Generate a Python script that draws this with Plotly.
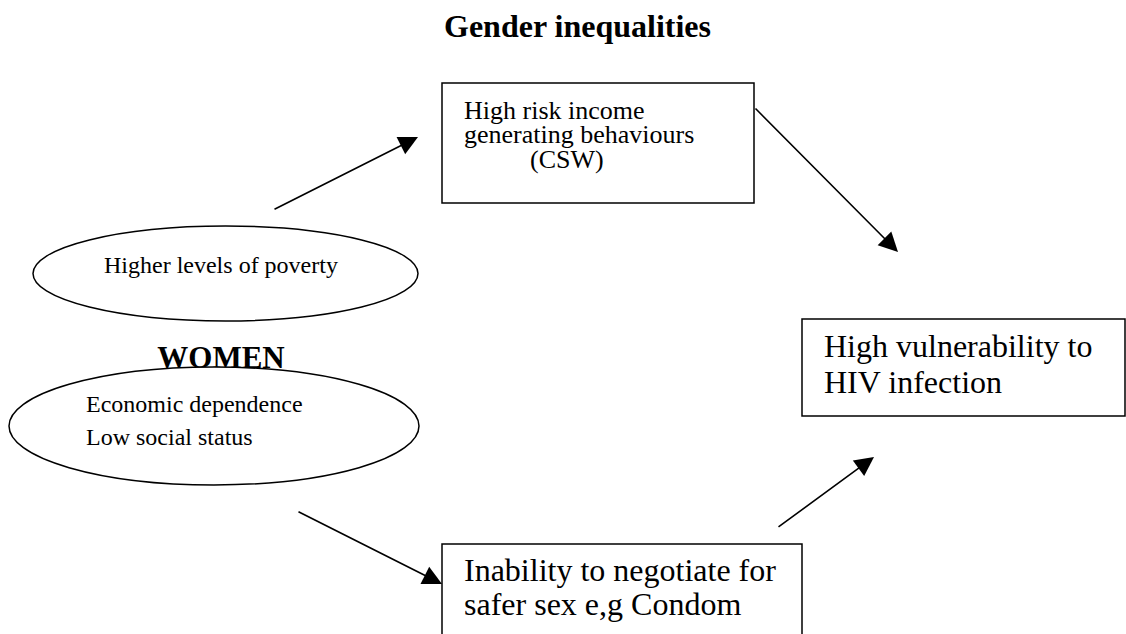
import plotly.graph_objects as go

W, H = 1126, 634
FONT = "Liberation Serif, Times New Roman, serif"

# ---- diagram content (text) ----
title_text = "Gender inequalities"
women_text = "WOMEN"
top_box_lines = ["High risk income", "generating behaviours", "(CSW)"]
poverty_text = "Higher levels of poverty"
econ_lines = ["Economic dependence", "Low social status"]
hiv_lines = ["High vulnerability to", "HIV infection"]
neg_lines = ["Inability to negotiate for", "safer sex e,g Condom"]

# ---- layout geometry (page pixel coordinates, y downward) ----
boxes = [  # x0, y0, x1, y1
    (442, 83, 754, 203),
    (802, 319, 1125, 416),
    (442, 544, 802, 660),
]
ellipses = [  # x0, y0, x1, y1
    (33, 226, 418, 321),
    (9, 367, 419, 485),
]
arrows = [  # tail x, tail y, tip x, tip y
    (273, 210, 418, 137),
    (754, 107, 898, 252),
    (297, 511, 442, 584),
    (777, 528, 874, 457),
]

fig = go.Figure()

def add_text(text, x, baseline, size, anchor="left", bold=False):
    yc = baseline - 0.33 * size
    fig.add_annotation(
        x=x, y=yc, xref="x", yref="y", text=("<b>%s</b>" % text) if bold else text,
        showarrow=False, xanchor=anchor, yanchor="middle",
        font=dict(family=FONT, size=size, color="black"), borderpad=0,
    )

# WOMEN as trace text so the ellipse can overlap it
fig.add_trace(go.Scatter(
    x=[221], y=[370 - 0.33 * 31], mode="text", text=["<b>%s</b>" % women_text],
    textposition="middle center", textfont=dict(family=FONT, size=31, color="black"),
    hoverinfo="skip", showlegend=False,
))

for (x0, y0, x1, y1) in boxes:
    fig.add_shape(type="rect", x0=x0, y0=y0, x1=x1, y1=y1, xref="x", yref="y",
                  line=dict(color="black", width=1.5), fillcolor="rgba(0,0,0,0)")
for (x0, y0, x1, y1) in ellipses:
    fig.add_shape(type="circle", x0=x0, y0=y0, x1=x1, y1=y1, xref="x", yref="y",
                  line=dict(color="black", width=1.5), fillcolor="white", layer="above")

for (ax, ay, x, y) in arrows:
    fig.add_annotation(x=x, y=y, ax=ax, ay=ay, xref="x", yref="y", axref="x", ayref="y",
                       text="", showarrow=True, arrowhead=2, arrowsize=2.4,
                       arrowwidth=1.6, arrowcolor="black")

# texts
add_text(title_text, 577, 37, 32, anchor="center", bold=True)
tb_x = [463, 463, 529]
tb_base = [119, 143, 168]
for t, x, b in zip(top_box_lines, tb_x, tb_base):
    add_text(t, x, b, 26)
add_text(poverty_text, 221, 273, 24, anchor="center")
for t, b in zip(econ_lines, [412, 445]):
    add_text(t, 85, b, 24)
for t, b in zip(hiv_lines, [357, 393]):
    add_text(t, 823, b, 32)
for t, b in zip(neg_lines, [581, 615]):
    add_text(t, 463, b, 32)

fig.update_layout(
    width=W, height=H, margin=dict(l=0, r=0, t=0, b=0),
    paper_bgcolor="white", plot_bgcolor="white",
    xaxis=dict(range=[0, W], visible=False, fixedrange=True),
    yaxis=dict(range=[H, 0], visible=False, fixedrange=True),
    showlegend=False,
)
fig.write_html(
    "out.html",
    config={"displayModeBar": False},
    post_script="document.body.style.margin='0';document.body.style.overflow='hidden';",
)
